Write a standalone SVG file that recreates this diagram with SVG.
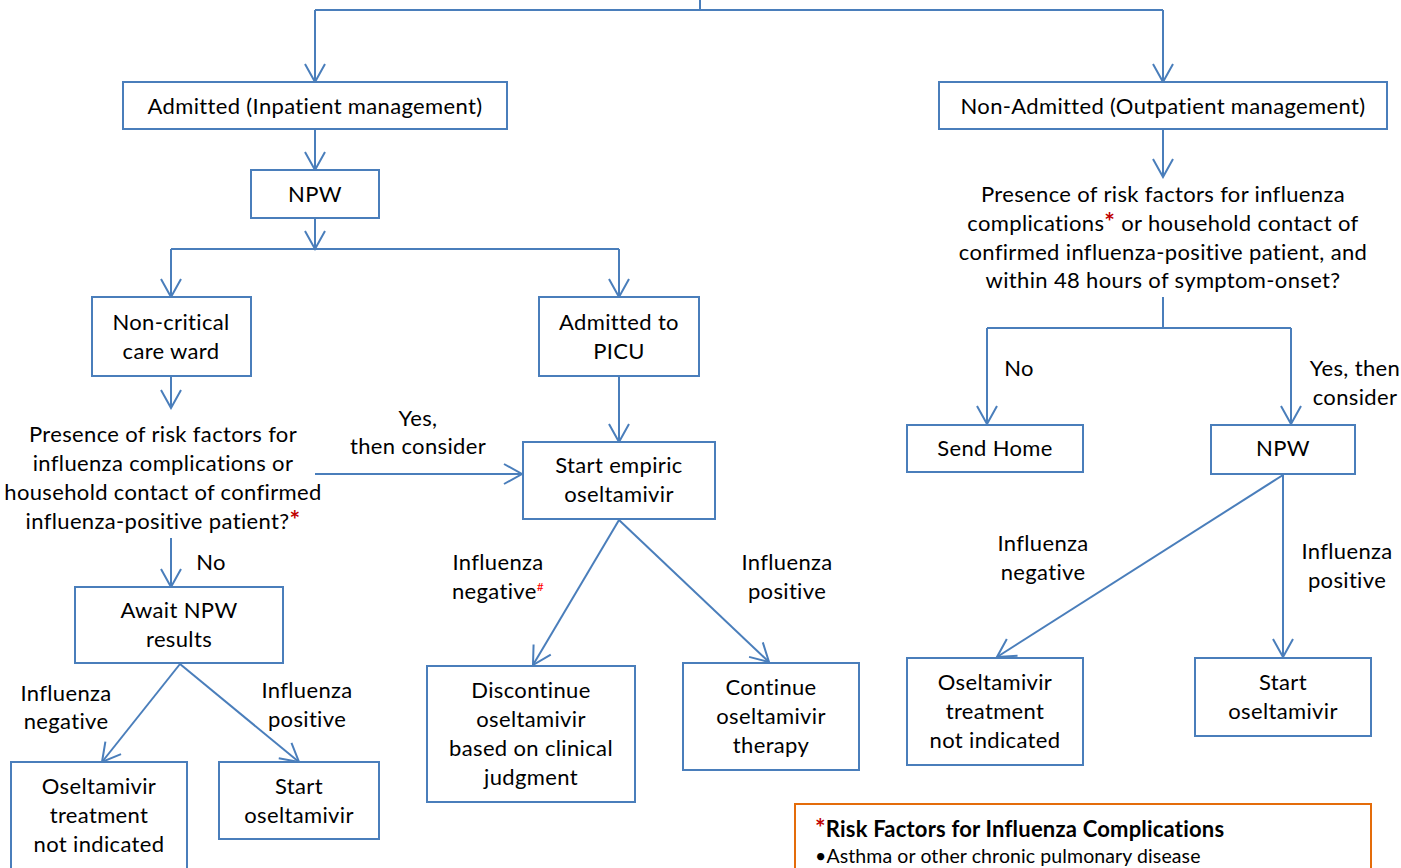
<svg xmlns="http://www.w3.org/2000/svg" width="1401" height="868" viewBox="0 0 1401 868">
<style>
.box{fill:#fff;stroke:#4A7EBB;stroke-width:2}
.t{font-family:Lato,"Open Sans",sans-serif;font-size:22px;letter-spacing:0.35px;fill:#000;text-anchor:middle}
.c{fill:none;stroke:#4A7EBB;stroke-width:2}
.a{marker-end:url(#arr)}
.red{fill:#C00000;font-weight:bold;font-size:25px}
.hash{fill:#FF0000;font-size:12px}
.rt{font-family:Lato,"Open Sans",sans-serif;font-size:22px;letter-spacing:0.2px;font-weight:bold;fill:#000}
.rb{font-family:Lato,"Open Sans",sans-serif;font-size:19.5px;letter-spacing:0.1px;fill:#000}
</style>
<defs>
<marker id="arr" markerUnits="userSpaceOnUse" viewBox="-20 -12 22 24" refX="0" refY="0" markerWidth="22" markerHeight="24" orient="auto">
<path d="M-18,-10 L0,0 L-18,10" fill="none" stroke="#4A7EBB" stroke-width="2"/>
</marker>
</defs>
<rect width="1401" height="868" fill="#fff"/>
<g id="connectors">
<path class="c" d="M700,0 V10"/>
<path class="c" d="M315,10 H1163"/>
<path class="c a" d="M315,10 V82"/>
<path class="c a" d="M1163,10 V82"/>
<path class="c a" d="M315,129 V170"/>
<path class="c a" d="M315,218 V249"/>
<path class="c" d="M171,249 H619"/>
<path class="c a" d="M171,249 V297"/>
<path class="c a" d="M619,249 V297"/>
<path class="c a" d="M171,376 V408"/>
<path class="c a" d="M619,376 V442"/>
<path class="c a" d="M315,474 H522"/>
<path class="c a" d="M171,538 V587"/>
<path class="c a" d="M180,664 L102,762"/>
<path class="c a" d="M180,664 L299,762"/>
<path class="c a" d="M619,520 L533,665"/>
<path class="c a" d="M619,520 L769,662"/>
<path class="c a" d="M1163,129 V177"/>
<path class="c" d="M1163,297 V328"/>
<path class="c" d="M987,328 H1291"/>
<path class="c a" d="M987,328 V424"/>
<path class="c a" d="M1291,328 V424"/>
<path class="c a" d="M1283,475 L997,657"/>
<path class="c a" d="M1283,475 V657"/>
</g>
<g id="admitted"><rect class="box" x="123" y="82" width="384" height="47"/><text class="t" x="315" y="114">Admitted (Inpatient management)</text></g>
<g id="npw-left"><rect class="box" x="251" y="170" width="128" height="48"/><text class="t" x="315" y="202">NPW</text></g>
<g id="non-admitted"><rect class="box" x="939" y="82" width="448" height="47"/><text class="t" x="1163" y="114">Non-Admitted (Outpatient management)</text></g>
<g id="q-right"><text class="t" x="1163" y="202">Presence of risk factors for influenza</text><text class="t" x="1163" y="231">complications<tspan class="red">*</tspan> or household contact of</text><text class="t" x="1163" y="260">confirmed influenza-positive patient, and</text><text class="t" x="1163" y="288">within 48 hours of symptom-onset?</text></g>
<g id="non-critical"><rect class="box" x="92" y="297" width="159" height="79"/><text class="t" x="171" y="330">Non-critical</text><text class="t" x="171" y="359">care ward</text></g>
<g id="picu"><rect class="box" x="539" y="297" width="160" height="79"/><text class="t" x="619" y="330">Admitted to</text><text class="t" x="619" y="359">PICU</text></g>
<g id="q-left"><text class="t" x="163" y="442">Presence of risk factors for</text><text class="t" x="163" y="471">influenza complications or</text><text class="t" x="163" y="500">household contact of confirmed</text><text class="t" x="163" y="529">influenza-positive patient?<tspan class="red">*</tspan></text></g>
<g id="lbl-yes-left"><text class="t" x="418" y="426">Yes,</text><text class="t" x="418" y="454">then consider</text></g>
<g id="empiric"><rect class="box" x="523" y="442" width="192" height="77"/><text class="t" x="619" y="473">Start empiric</text><text class="t" x="619" y="502">oseltamivir</text></g>
<g id="lbl-no-left"><text class="t" x="211" y="570">No</text></g>
<g id="await"><rect class="box" x="75" y="587" width="208" height="76"/><text class="t" x="179" y="618">Await NPW</text><text class="t" x="179" y="647">results</text></g>
<g id="lbl-neg-left"><text class="t" x="66" y="701">Influenza</text><text class="t" x="66" y="729">negative</text></g>
<g id="lbl-pos-left"><text class="t" x="307" y="698">Influenza</text><text class="t" x="307" y="727">positive</text></g>
<g id="not-ind-left"><rect class="box" x="11" y="762" width="176" height="112"/><text class="t" x="99" y="794">Oseltamivir</text><text class="t" x="99" y="823">treatment</text><text class="t" x="99" y="852">not indicated</text></g>
<g id="start-left"><rect class="box" x="219" y="762" width="160" height="77"/><text class="t" x="299" y="794">Start</text><text class="t" x="299" y="823">oseltamivir</text></g>
<g id="lbl-neg-mid"><text class="t" x="498" y="570">Influenza</text><text class="t" x="498" y="599">negative<tspan class="hash" dy="-8">#</tspan></text></g>
<g id="lbl-pos-mid"><text class="t" x="787" y="570">Influenza</text><text class="t" x="787" y="599">positive</text></g>
<g id="discontinue"><rect class="box" x="427" y="666" width="208" height="136"/><text class="t" x="531" y="698">Discontinue</text><text class="t" x="531" y="727">oseltamivir</text><text class="t" x="531" y="756">based on clinical</text><text class="t" x="531" y="785">judgment</text></g>
<g id="continue"><rect class="box" x="683" y="663" width="176" height="107"/><text class="t" x="771" y="695">Continue</text><text class="t" x="771" y="724">oseltamivir</text><text class="t" x="771" y="753">therapy</text></g>
<g id="lbl-no-right"><text class="t" x="1019" y="376">No</text></g>
<g id="lbl-yes-right"><text class="t" x="1355" y="376">Yes, then</text><text class="t" x="1355" y="405">consider</text></g>
<g id="send-home"><rect class="box" x="907" y="425" width="176" height="47"/><text class="t" x="995" y="456">Send Home</text></g>
<g id="npw-right"><rect class="box" x="1211" y="425" width="144" height="49"/><text class="t" x="1283" y="456">NPW</text></g>
<g id="lbl-neg-right"><text class="t" x="1043" y="551">Influenza</text><text class="t" x="1043" y="580">negative</text></g>
<g id="lbl-pos-right"><text class="t" x="1347" y="559">Influenza</text><text class="t" x="1347" y="588">positive</text></g>
<g id="not-ind-right"><rect class="box" x="907" y="658" width="176" height="107"/><text class="t" x="995" y="690">Oseltamivir</text><text class="t" x="995" y="719">treatment</text><text class="t" x="995" y="748">not indicated</text></g>
<g id="start-right"><rect class="box" x="1195" y="658" width="176" height="78"/><text class="t" x="1283" y="690">Start</text><text class="t" x="1283" y="719">oseltamivir</text></g>
<g id="risk-factors"><rect x="795" y="804" width="576" height="72" fill="#fff" stroke="#E46C0A" stroke-width="2"/><text class="rt" x="815" y="837"><tspan class="red">*</tspan>Risk Factors for Influenza Complications</text><text class="rb" x="815" y="863">•Asthma or other chronic pulmonary disease</text></g>
</svg>
